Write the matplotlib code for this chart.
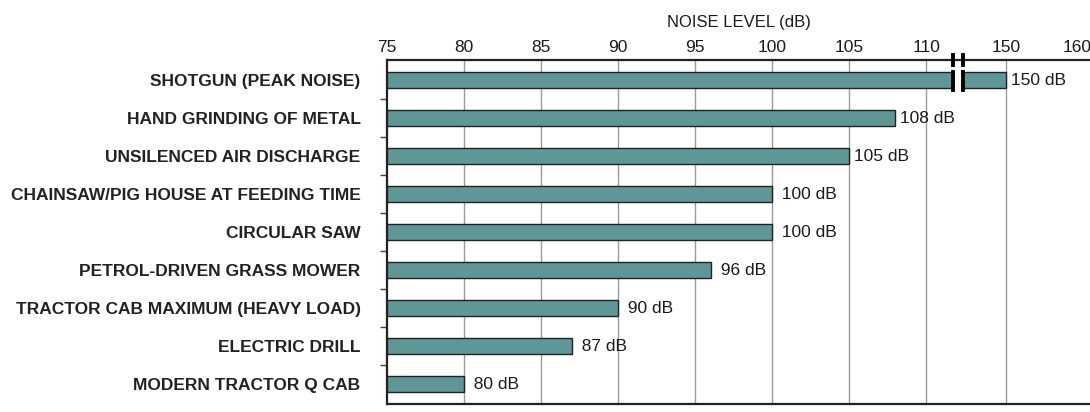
import numpy as np
import matplotlib
matplotlib.use("Agg")
import matplotlib.pyplot as plt

plt.rcParams['font.family'] = ['Liberation Sans', 'DejaVu Sans']

sources = ["SHOTGUN (PEAK NOISE)", "HAND GRINDING OF METAL", "UNSILENCED AIR DISCHARGE",
           "CHAINSAW/PIG HOUSE AT FEEDING TIME", "CIRCULAR SAW", "PETROL-DRIVEN GRASS MOWER",
           "TRACTOR CAB MAXIMUM (HEAVY LOAD)", "ELECTRIC DRILL", "MODERN TRACTOR Q CAB"]
noise_db = [150, 108, 105, 100, 100, 96, 90, 87, 80]
ticks = [75, 80, 85, 90, 95, 100, 105, 110, 150, 160]

# broken axis: 75-111.7 linear, then squeezed up to 150, then 150-160
data_nodes = [60, 111.7, 150, 170]
axis_nodes = [60, 111.7, 115.2, 124.4]

def fwd(x):
    return np.interp(x, data_nodes, axis_nodes)

def inv(x):
    return np.interp(x, axis_nodes, data_nodes)

bar_col = "#5f9696"

fig = plt.figure(figsize=(10.9, 4.12), dpi=100)
ax = fig.add_axes([0.355, 0.019, 0.645, 0.835])
ax.set_xscale('function', functions=(fwd, inv))

y = np.arange(len(sources))
ax.barh(y, [v - 75 for v in noise_db], left=75, height=0.42, color=bar_col,
        edgecolor="#222222", linewidth=1, zorder=3)

for yi, v in zip(y, noise_db):
    ax.text(v, yi, "  %d dB" % v if v < 105 else " %d dB" % v,
            va='center', ha='left', fontsize=12.5, color="#1a1a1a", zorder=4)

ax.set_xlim(75, 161.8)
ax.set_ylim(len(sources) - 0.47, -0.53)

ax.set_xticks(ticks)
ax.set_xticklabels([str(t) for t in ticks], fontsize=12.5, color="#1a1a1a")
ax.xaxis.tick_top()
ax.xaxis.set_label_position('top')
ax.set_xlabel("NOISE LEVEL (dB)", fontsize=12, labelpad=9, color="#1a1a1a")
ax.tick_params(axis='x', length=0, pad=4)
# grid lines (none at the last tick)
for t in ticks[1:-1]:
    ax.axvline(t, color="#9a9a9a", linewidth=1, zorder=0)

ax.set_yticks(y)
ax.set_yticklabels(sources, fontsize=12.5, fontweight='bold', color="#222222")
ax.set_yticks(y[:-1] + 0.5, minor=True)
ax.tick_params(axis='y', which='major', length=0, pad=19)
ax.tick_params(axis='y', which='minor', length=5, width=1, color="#444444")

for s in ['top', 'bottom', 'left']:
    ax.spines[s].set_linewidth(1.6)
    ax.spines[s].set_color("#222222")
ax.spines['right'].set_visible(False)

# break marks
brk = inv([111.75, 112.4])
ax.barh(0, brk[1] - brk[0], left=brk[0], height=0.5, color='white', zorder=5)
for bx in brk:
    ax.plot([bx, bx], [-0.66, -0.39], color='black', linewidth=2.8, clip_on=False, zorder=6)
    ax.plot([bx, bx], [-0.23, 0.26], color='black', linewidth=2.8, clip_on=False, zorder=6)

fig.savefig("out.png", dpi=100)
